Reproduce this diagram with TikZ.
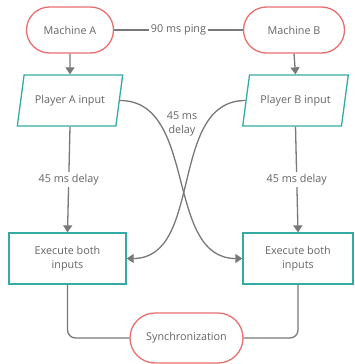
\documentclass[tikz,border=0pt]{standalone}
\usepackage{fontspec}
\setmainfont{Open Sans}
\usetikzlibrary{shapes.geometric,arrows.meta}
\definecolor{salmon}{RGB}{232,110,110}
\definecolor{tealline}{RGB}{52,170,165}
\definecolor{linegray}{RGB}{120,120,120}
\definecolor{textgray}{RGB}{100,100,100}

\tikzset{
  terminal/.style={draw=salmon, line width=1.3pt, rounded corners=23pt,
    minimum height=46pt, text=textgray},
  inputbox/.style={draw=tealline, line width=1.3pt, trapezium,
    trapezium left angle=72, trapezium right angle=108,
    trapezium stretches=true, minimum width=106pt, minimum height=51pt,
    text=textgray},
  process/.style={draw=tealline, line width=1.3pt, minimum height=51pt,
    align=center, text=textgray},
  link/.style={draw=linegray, line width=1.3pt},
  arrow/.style={link, -{Triangle[width=9pt,length=7pt]}},
  lbl/.style={fill=white, text=textgray, inner sep=2pt}
}

\begin{document}
\begin{tikzpicture}[x=1pt, y=-1pt, font=\fontsize{10.8}{14.5}\selectfont]
  \useasboundingbox (0,0) rectangle (354,364);

  \node[terminal, minimum width=87pt] (MA) at (70,30) {Machine A};
  \node[terminal, minimum width=101pt] (MB) at (294,30) {Machine B};

  \node[inputbox] (PA) at (70,100.5) {Player A input};
  \node[inputbox] (PB) at (295.5,100.5) {Player B input};

  \node[process, minimum width=117pt] (EA) at (67.5,258.5) {Execute both\\inputs};
  \node[process, minimum width=110pt] (EB) at (298,258.5) {Execute both\\inputs};

  \node[terminal, minimum width=113pt, minimum height=50pt, rounded corners=25pt] (SY) at (186.5,338) {Synchronization};

  \draw[link] (MA) -- node[lbl] {90 ms ping} (MB);

  \draw[arrow] (MA.south) -- (PA.north);
  \draw[arrow] (MB.south) -- (PB.north);

  \draw[arrow] (PA.south) -- node[lbl] {45 ms delay} (EA.north);
  \draw[arrow] (PB.south) -- node[lbl] {45 ms delay} (EB.north);

  \draw[arrow] (PA.east) to[out=0, in=180] (EB.west);
  \draw[arrow] (PB.west) to[out=180, in=0] (EA.east);
  \node[text=textgray, align=center] (DL) at (182,124) {45 ms\\delay};

  \draw[link, rounded corners=8pt] (EA.south) |- (SY.west);
  \draw[link, rounded corners=8pt] (EB.south) |- (SY.east);
\end{tikzpicture}
\end{document}
